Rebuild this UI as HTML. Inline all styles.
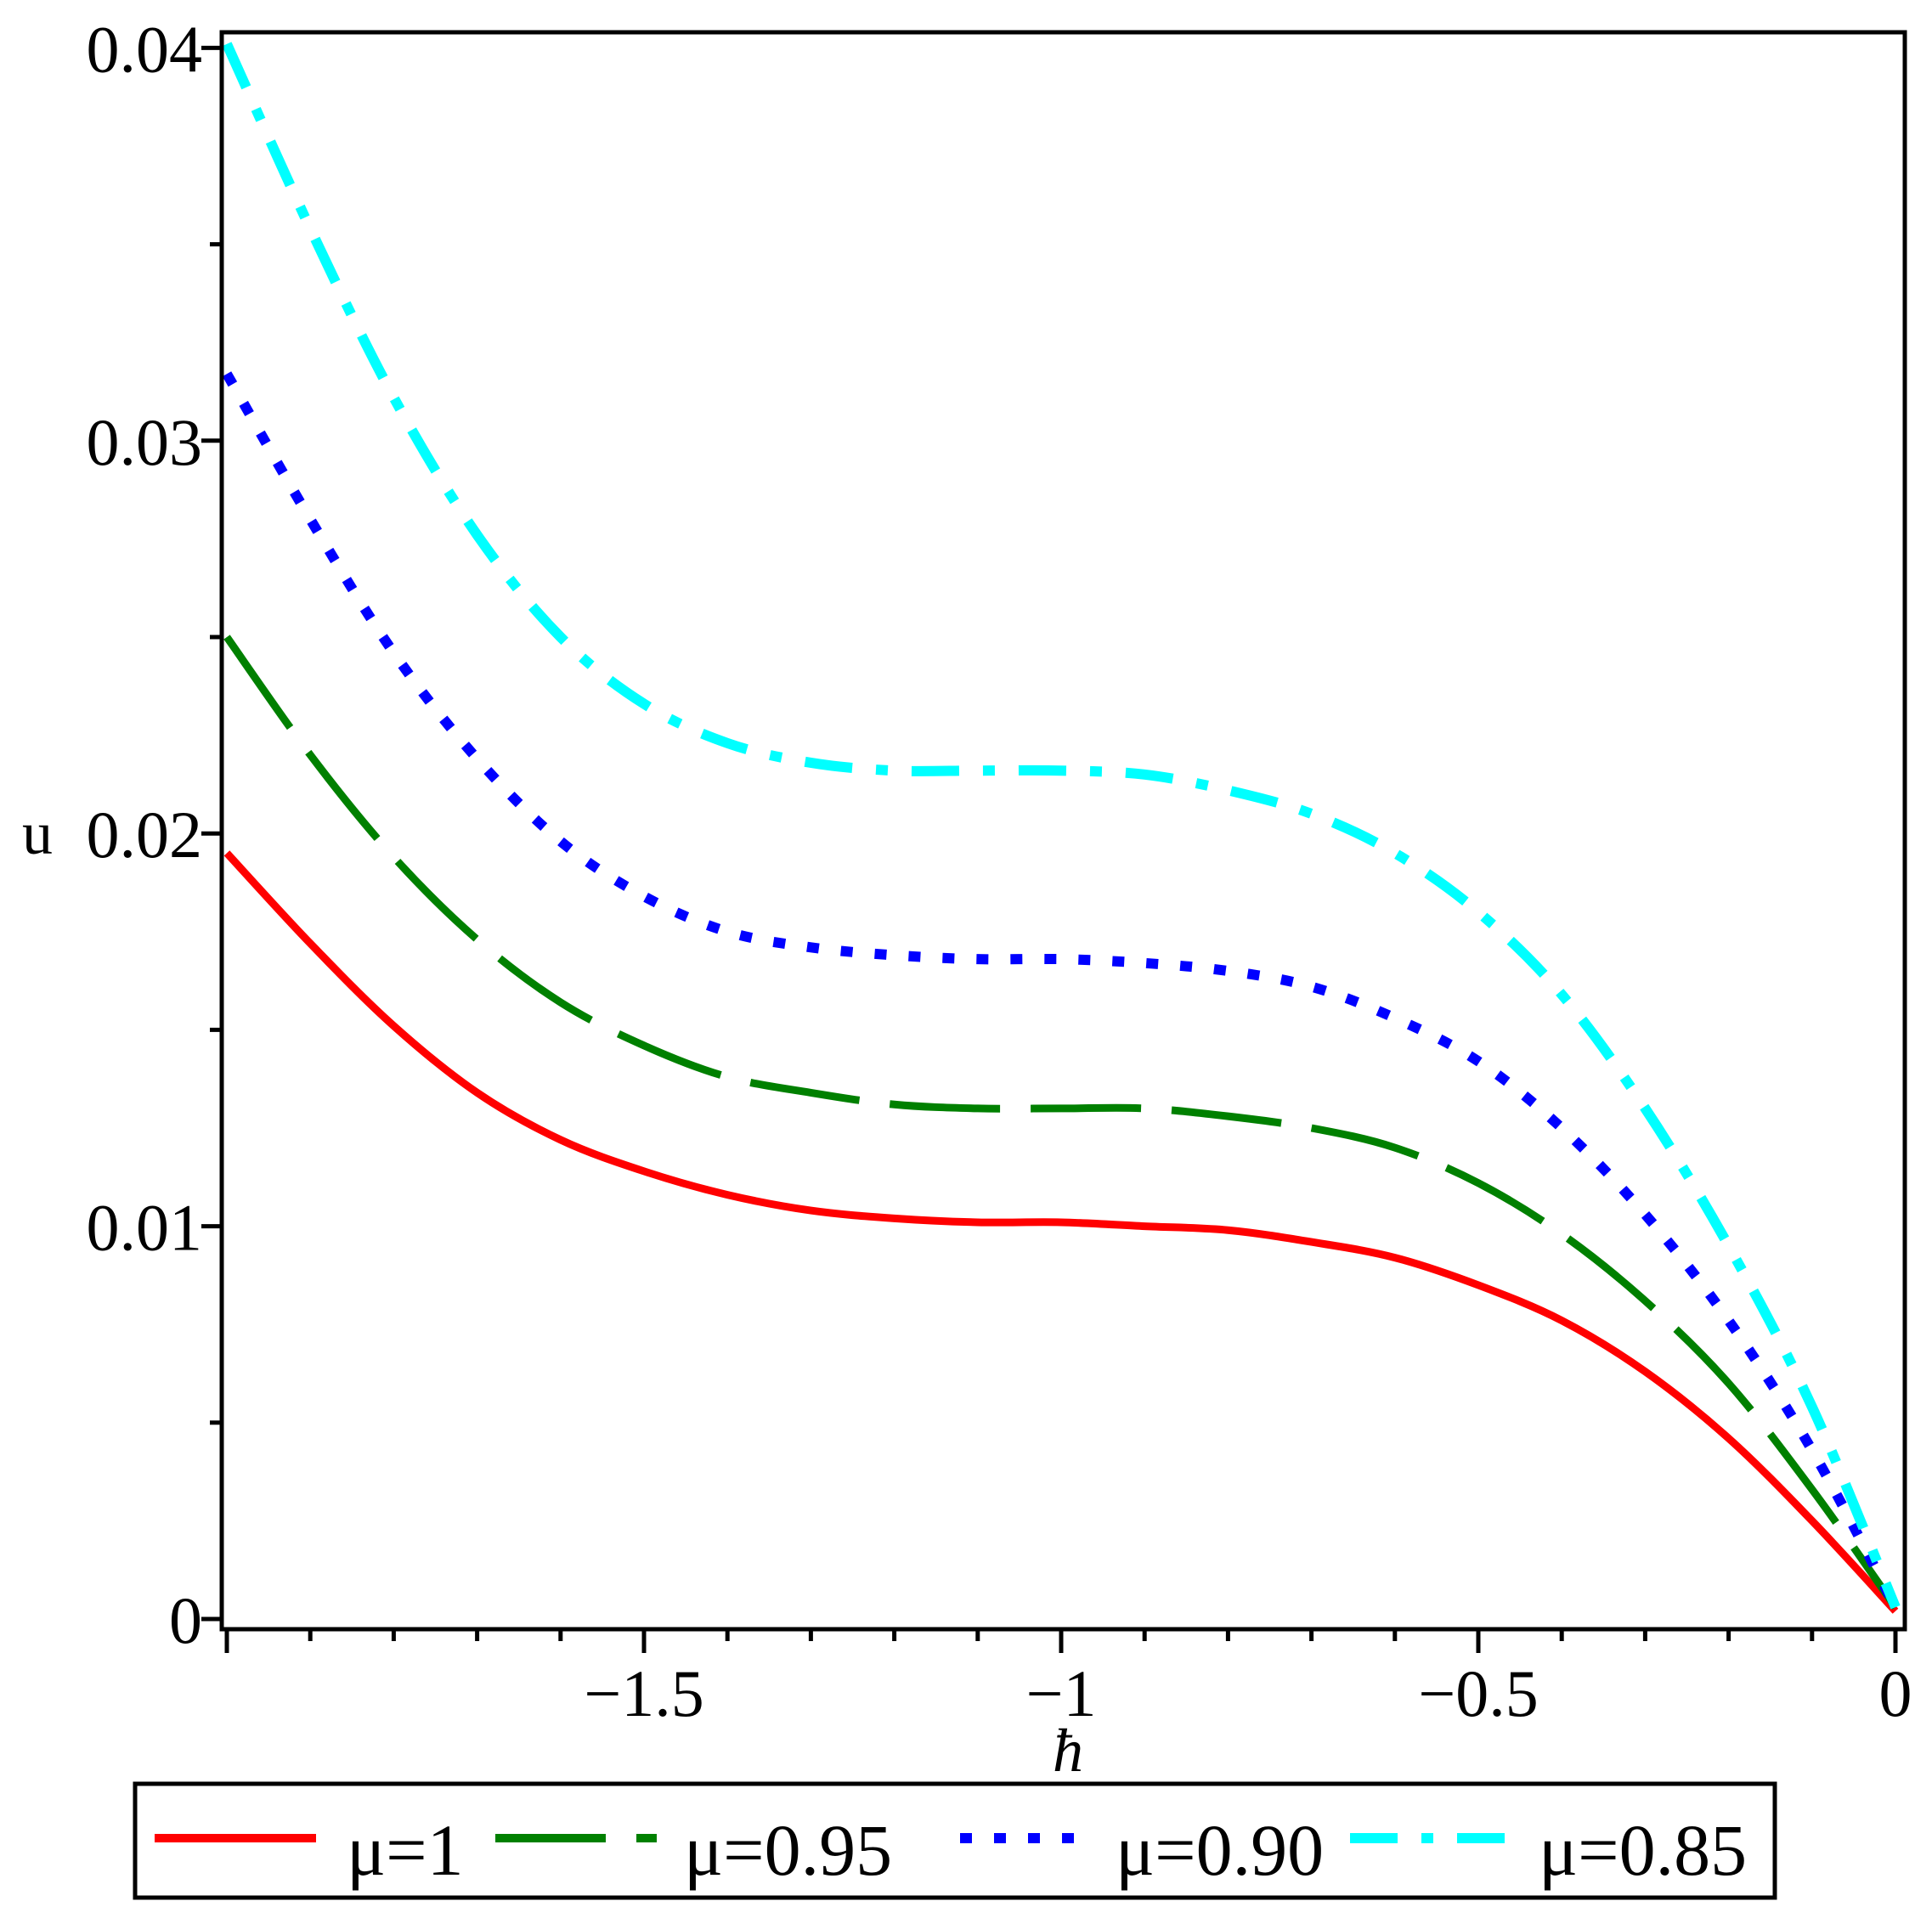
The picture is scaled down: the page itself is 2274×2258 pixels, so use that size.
<!DOCTYPE html>
<html><head><meta charset="utf-8"><style>body{margin:0;background:#fff}svg{display:block}text{font-family:"Liberation Serif",serif}</style></head>
<body>
<svg id="chart" width="2274" height="2258" viewBox="0 0 2274 2258" xmlns="http://www.w3.org/2000/svg">
<rect x="0" y="0" width="2274" height="2258" fill="#fff"/>
<g id="plot"></g>
<rect x="261" y="38" width="1981" height="1880" fill="none" stroke="#000" stroke-width="5"/>
<g id="axes"></g>
<text x="44" y="1005" font-size="72" text-anchor="middle">u</text>
<text x="1257" y="2085" font-size="72" font-style="italic" text-anchor="middle">ħ</text>
<g>
<rect x="159" y="2100" width="1930" height="134" fill="#fff" stroke="#000" stroke-width="5"/>
<line x1="182" y1="2164" x2="372" y2="2164" stroke="#ff0000" stroke-width="10"/>
<text x="408" y="2207" font-size="86">μ=1</text>
<line x1="583" y1="2164" x2="773" y2="2164" stroke="#008000" stroke-width="10" stroke-dasharray="130 36"/>
<text x="805" y="2207" font-size="86">μ=0.95</text>
<line x1="1130" y1="2164" x2="1265" y2="2164" stroke="#0000ff" stroke-width="12" stroke-dasharray="14 26"/>
<text x="1313" y="2207" font-size="86">μ=0.90</text>
<line x1="1589" y1="2164" x2="1779" y2="2164" stroke="#00ffff" stroke-width="12" stroke-dasharray="56 28 14 28"/>
<text x="1811" y="2207" font-size="86">μ=0.85</text>
</g>
</svg>
<script>
const xs = [-2,-1.9,-1.8,-1.7,-1.6,-1.5,-1.4,-1.3,-1.2,-1.1,-1.0,-0.9,-0.8,-0.7,-0.6,-0.5,-0.4,-0.3,-0.2,-0.1,0];
const mu1 = [.0195,.0172,.0151,.0134,.0122,.0114,.0108,.0104,.0102,.0101,.0101,.0100,.0099,.0096,.0092,.0085,.0076,.0063,.0046,.0025,.0002];
const mu095 = [.0250,.0220,.0194,.0173,.0157,.0146,.0138,.0134,.0131,.0130,.0130,.0130,.0128,.0125,.0120,.0111,.0098,.0081,.0060,.0033,.0003];
const mu090 = [.0317,.0280,.0246,.0219,.0198,.0184,.0175,.0171,.0169,.0168,.0168,.0167,.0165,.0161,.0153,.0142,.0125,.0103,.0076,.0043,.0003];
const mu085 = [.0401,.0354,.0311,.0276,.0250,.0233,.0223,.0218,.0216,.0216,.0216,.0215,.0211,.0205,.0195,.0180,.0159,.0130,.0095,.0054,.0003];
const xTickVals = [-1.5,-1,-0.5,0];
const xTickLabels = ["\u22121.5","\u22121","\u22120.5","0"];
const yTickVals = [0,0.01,0.02,0.03,0.04];
const yTickLabels = ["0","0.01","0.02","0.03","0.04"];

const NS="http://www.w3.org/2000/svg";
function X(v){return 2231+v*982;}
function Y(v){return 1906-v*46240;}
function mk(tag,attrs,parent){const e=document.createElementNS(NS,tag);for(const k in attrs)e.setAttribute(k,attrs[k]);parent.appendChild(e);return e;}
const plot=document.getElementById('plot'), axes=document.getElementById('axes');
function path(vals){
  const p=xs.map((x,i)=>[X(x),Y(vals[i])]);
  let d=`M${p[0][0]},${p[0][1]}`;
  for(let i=0;i<p.length-1;i++){
    const p0=p[Math.max(i-1,0)],p1=p[i],p2=p[i+1],p3=p[Math.min(i+2,p.length-1)];
    d+=` C${p1[0]+(p2[0]-p0[0])/6},${p1[1]+(p2[1]-p0[1])/6} ${p2[0]-(p3[0]-p1[0])/6},${p2[1]-(p3[1]-p1[1])/6} ${p2[0]},${p2[1]}`;
  }
  return d;
}
const series=[[mu1,'#ff0000','none',9,'series-mu-1'],[mu095,'#008000','130 36',9,'series-mu-095'],[mu090,'#0000ff','14 26',12,'series-mu-090'],[mu085,'#00ffff','56 28 14 28',12,'series-mu-085']];
series.forEach(s=>{
  const e=mk('path',{d:path(s[0]),fill:'none',stroke:s[1],'stroke-width':s[3],'stroke-dasharray':s[2]},plot);
  
  
});
for(let i=0;i<=20;i++){
  const v=-2+i*0.1, major=Math.abs(v*2-Math.round(v*2))<1e-6;
  const t=mk('line',{x1:X(v),x2:X(v),y1:1918,y2:major?1946:1932,stroke:'#000','stroke-width':5},axes);
  
  
}
xTickVals.forEach((v,i)=>{
  const t=mk('text',{x:X(v),y:2020,'font-size':78,'text-anchor':'middle'},axes);t.textContent=xTickLabels[i];
  
  
});
for(let i=0;i<=8;i++){
  const v=i*0.005, major=i%2===0;
  const t=mk('line',{x1:major?237:247,x2:261,y1:Y(v),y2:Y(v),stroke:'#000','stroke-width':5},axes);
  
  
}
yTickVals.forEach((v,i)=>{
  const t=mk('text',{x:238,y:Y(v)+28,'font-size':78,'text-anchor':'end'},axes);t.textContent=yTickLabels[i];
  
  
});
</script>
</body></html>
